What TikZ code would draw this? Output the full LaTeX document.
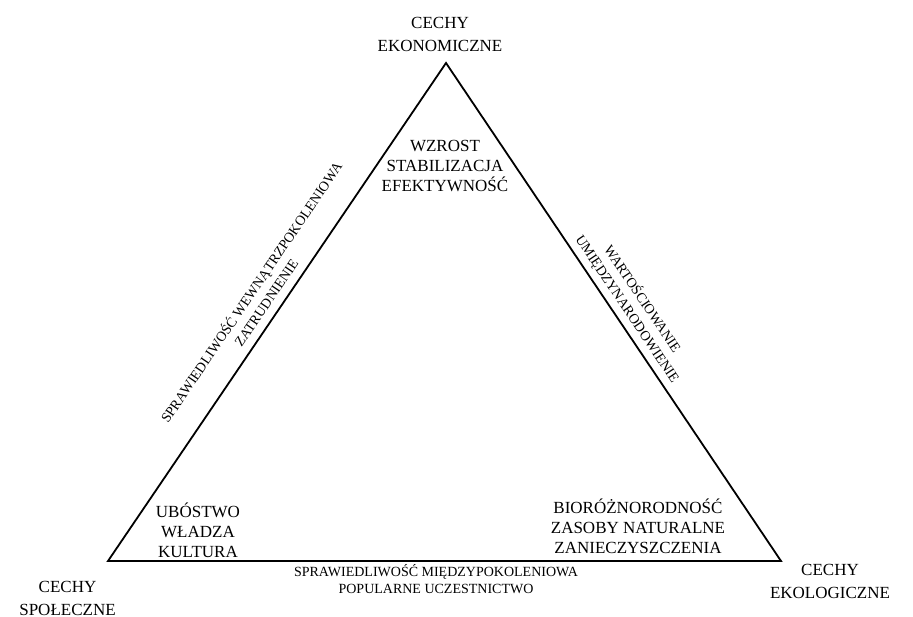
\documentclass[tikz,border=0pt]{standalone}
\usepackage{fontspec}
\setmainfont{Liberation Serif}
\begin{document}
\begin{tikzpicture}[x=1pt,y=-1pt,
  corner/.style={font=\fontsize{17}{23}\selectfont, align=center, inner sep=0pt, anchor=base},
  innerlist/.style={font=\fontsize{17}{20}\selectfont, align=center, inner sep=0pt, anchor=base},
  edgelbl/.style={font=\fontsize{14}{16.5}\selectfont, align=center, inner sep=0pt},
  sidelbl/.style={font=\fontsize{14}{18}\selectfont, align=center, inner sep=0pt},
  side/.style={line width=1.8pt, line join=miter}]
\useasboundingbox (0,0) rectangle (913,617);
% vertices of the triangle
\coordinate (eko) at (446,63);
\coordinate (spo) at (108,561);
\coordinate (ekl) at (781,561);
\draw[side] (eko) -- (spo) -- (ekl) -- cycle;
% corner titles (anchored at the baseline of the last line)
\node[corner] (cEko) at (440,52) {CECHY\\EKONOMICZNE};
\node[corner] (cSpo) at (67.5,615) {CECHY\\SPOŁECZNE};
\node[corner] (cEkl) at (830,598) {CECHY\\EKOLOGICZNE};
% lists inside the corners
\node[innerlist] (wEko) at (445,192) {WZROST\\STABILIZACJA\\EFEKTYWNOŚĆ};
\node[innerlist] (wSpo) at (198,557) {UBÓSTWO\\WŁADZA\\KULTURA};
\node[innerlist] (wEkl) at (638,553) {BIORÓŻNORODNOŚĆ\\ZASOBY NATURALNE\\ZANIECZYSZCZENIA};
% labels along the sides
\node[edgelbl, anchor=base] (bSpoEkl) at (436,593) {SPRAWIEDLIWOŚĆ MIĘDZYPOKOLENIOWA\\POPULARNE UCZESTNICTWO};
\node[sidelbl, rotate=55.8] (bEkoSpo) at (258,297) {SPRAWIEDLIWOŚĆ WEWNĄTRZPOKOLENIOWA\\ZATRUDNIENIE};
\node[sidelbl, rotate=-56.1] (bEkoEkl) at (635,304) {WARTOŚCIOWANIE\\UMIĘDZYNARODOWIENIE};
\end{tikzpicture}
\end{document}
